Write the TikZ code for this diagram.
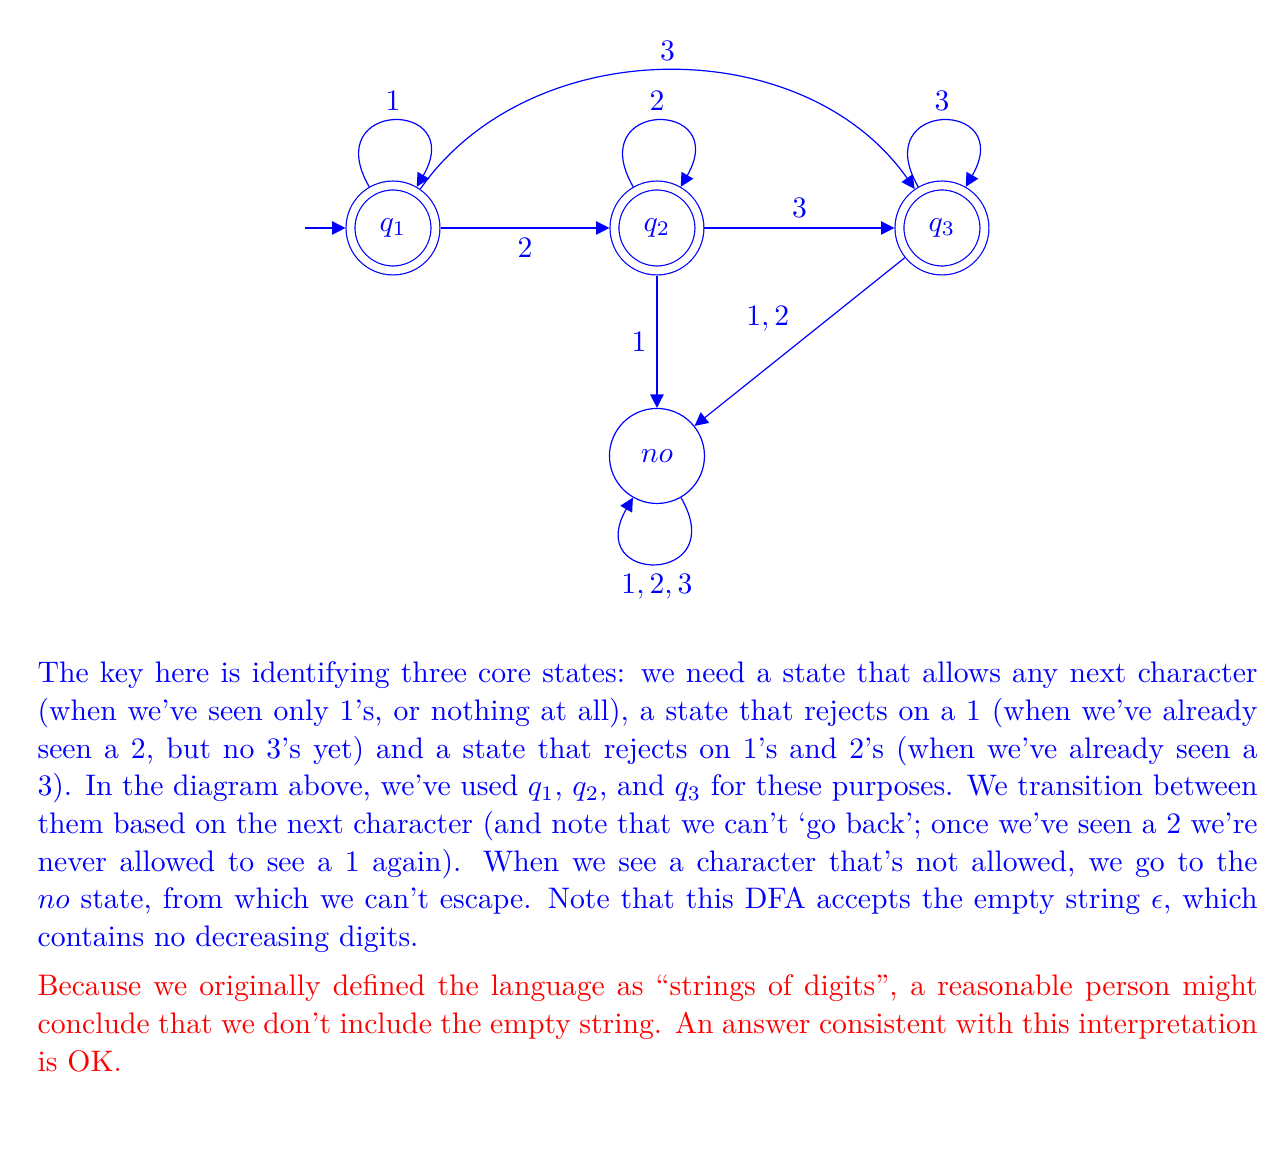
\documentclass[tikz,border=0pt]{standalone}
\usepackage{amsmath}
\usepackage{amssymb}
\usepackage{tikz}
\usetikzlibrary{arrows.meta}

\begin{document}
\begin{tikzpicture}[
            estado/.style={circle, draw=blue, text=blue, minimum size=28.6pt, inner sep=0pt},
            acept/.style={double, double distance=2.6pt, outer sep=1.7pt},
            trans/.style={-{Triangle[length=4.5pt, width=4.5pt]}, blue},
            every loop/.style={looseness=1, min distance=12mm},
            etiq/.style={text=blue},
            texto/.style={anchor=north west, inner sep=0pt, text width=410.8pt, align=justify,
                font=\fontsize{10pt}{12.7pt}\selectfont, execute at begin node={\setlength{\parindent}{0pt}}}
        ]
            \useasboundingbox (-4.651,2.698) rectangle (10.545,-10.912);

            % Estados
            \node[estado, acept] (q1) at (0,0) {$q_1$};
            \node[estado, acept] (q2) at (3.124,0) {$q_2$};
            \node[estado, acept] (q3) at (6.497,0) {$q_3$};
            \node[estado, minimum size=32pt] (no) at (3.124,-2.698) {$no$};
            \coordinate (ini) at (-1.041,0);

            % Transiciones
            \draw[trans] (ini) -- (q1);
            \draw[trans] (q1) edge[out=120, in=60, loop] node[etiq, above] {$1$} (q1);
            \draw[trans] (q2) edge[out=120, in=60, loop] node[etiq, above] {$2$} (q2);
            \draw[trans] (q3) edge[out=120, in=60, loop] node[etiq, above] {$3$} (q3);
            \draw[trans] (no) edge[out=-60, in=-120, loop] node[etiq, below] {$1, 2, 3$} (no);
            \draw[trans] (q1) -- node[etiq, below] {$2$} (q2);
            \draw[trans] (q2) -- node[etiq, above] {$3$} (q3);
            \draw[trans] (q2) -- node[etiq, left] {$1$} (no);
            \draw[trans] (q3) -- node[etiq, above left] {$1, 2$} (no);
            \draw[trans] (q1) to[bend left=55] node[etiq, above] {$3$} (q3);

            % Explicacion
            \node[texto] (expl) at (-4.213,-5.126) {\color{blue}The key here is identifying three core states: we need a state that allows any next character (when we've seen only 1's, or nothing at all), a state that rejects on a 1 (when we've already seen a 2, but no 3's yet) and a state that rejects on 1's and 2's (when we've already seen a 3). In the diagram above, we've used $q_1$, $q_2$, and $q_3$ for these purposes. We transition between them based on the next character (and note that we can't `go back'; once we've seen a 2 we're never allowed to see a 1 again). When we see a character that's not allowed, we go to the $no$ state, from which we can't escape. Note that this DFA accepts the empty string $\epsilon$, which contains no decreasing digits.\par
            \vspace{3.8pt}\color{red}Because we originally defined the language as ``strings of digits'', a reasonable person might conclude that we don't include the empty string. An answer consistent with this interpretation is OK.};

        \end{tikzpicture}
\end{document}
